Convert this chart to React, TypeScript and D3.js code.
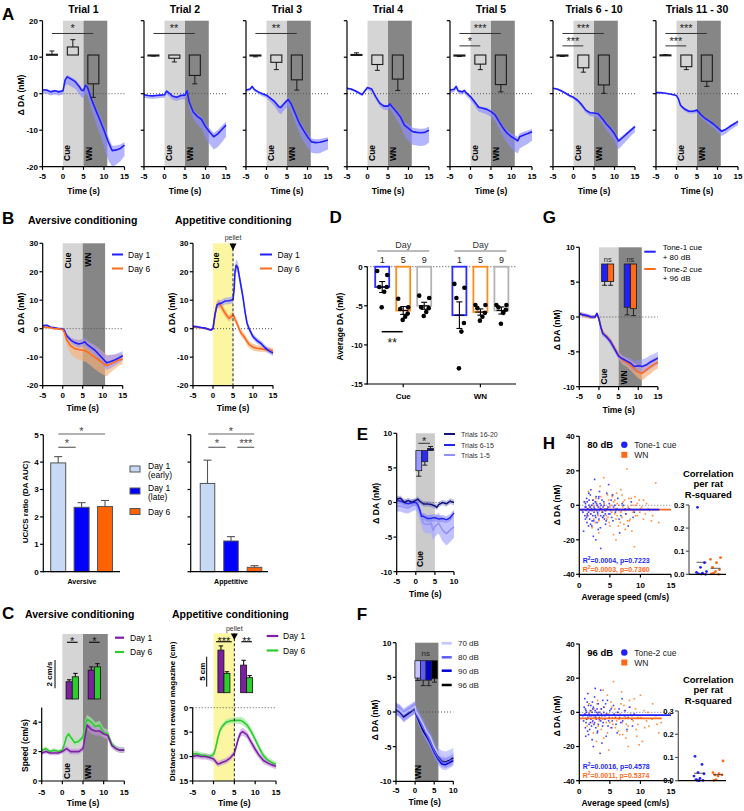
import React from "react";
import * as d3 from "d3";

const FONT = "'Liberation Sans', Arial, Helvetica, sans-serif";
const BLUE = "#1f1fff";
const BLUE_BAND = "#8c8cff";
const ORANGE = "#ff6a1a";
const ORANGE_BAND = "#f7b07a";
const PURPLE = "#7d1fa3";
const PURPLE_BAND = "#c590dd";
const GREEN = "#2ecc2e";
const GREEN_BAND = "#a2eaa2";
const LIGHT = "#d5d5d5";
const DARK = "#868686";
const YELLOW = "#fcf6a2";

// ---------------- Panel A data ----------------
const A_TITLES = ["Trial 1", "Trial 2", "Trial 3", "Trial 4", "Trial 5", "Trials 6 - 10", "Trials 11 - 30"];
const TR1_T = [-5, -4, -3, -2, -1, 0, 0.5, 1, 2, 3, 4, 4.5, 5, 5.5, 6, 6.5, 7, 8, 9, 10, 11, 12, 13, 14, 15];
const TR1_V = [1, 1, 0.5, 0.8, 0.5, 0.8, 3.7, 4.6, 4, 3.3, 1.9, 1, 0.8, 2.3, 1.7, 0, -1.7, -4.5, -7.2, -10, -13.1, -15.6, -15.4, -15, -14.1];
const TR1_L = [1, 1, 1, 1, 1, 1, 1.5, 2, 2, 2, 2, 2, 2, 2.2, 2.4, 2.6, 3, 3.5, 4, 4.5, 5, 4.5, 4, 3.5, 3];
const TR2_T = [-5, -4, -3, -2, -1, 0, 0.5, 1, 2, 3, 4, 5, 5.5, 6, 7, 8, 9, 10, 11, 12, 13, 14, 15];
const TR2_V = [-0.3, -0.5, -0.6, -0.5, -0.4, -0.3, 0.7, 0.3, -0.7, -1, -0.5, -0.4, 0.8, -2.2, -5, -6.2, -7, -9, -10.5, -11.8, -11, -9.8, -8.6];
const TR2_L = [0.8, 0.8, 0.8, 0.8, 0.8, 0.8, 0.8, 0.9, 1, 1, 1.1, 1.2, 1.3, 1.5, 2, 2.3, 2.6, 3, 3.3, 3.5, 3.6, 3.5, 3.2];
const TR3_T = [-5, -4, -3.5, -3, -2, -1, 0, 1, 2, 3, 3.5, 4, 5, 5.3, 6, 7, 8, 9, 10, 11, 12, 13, 14, 15];
const TR3_V = [1, 1.3, 2, 1.2, 0.5, 0, -0.4, -1.3, -2.2, -3.6, -3.8, -3.1, -1.9, -1.6, -2.8, -5.4, -8.1, -10, -11.8, -13.2, -13.4, -13.3, -13, -12.7];
const TR3_L = [0.5, 0.5, 0.5, 0.5, 0.6, 0.7, 0.8, 1, 1.3, 1.6, 1.8, 1.8, 1.8, 1.8, 2, 2.5, 2.8, 3, 3, 3, 3, 3, 2.8, 2.6];
const TR4_T = [-5, -4, -3, -2, -1.3, -0.5, 0, 1, 2, 3, 4, 5, 5.5, 6, 7, 8, 9, 10, 11, 12, 13, 14, 15];
const TR4_V = [1.5, 1.3, 0.8, 0.2, -0.2, 1, 1.7, 1.3, -0.8, -2.6, -3.4, -3.4, -2.8, -3.6, -4.9, -6.3, -8.6, -9.5, -10.4, -10.6, -10.7, -10.6, -10];
const TR4_L = [0.4, 0.4, 0.4, 0.5, 0.5, 0.5, 0.6, 0.7, 0.8, 0.9, 1, 1.1, 1.2, 1.5, 2, 2.5, 3, 3.5, 3.6, 3.6, 3.6, 3.6, 3.4];
const TR5_T = [-5, -4, -3.5, -3, -2, -1.5, -1, 0, 1, 2, 3, 4, 5, 6, 7, 8, 9, 10, 11, 11.5, 12, 13, 14, 15];
const TR5_V = [1, 1.2, 2, 0.8, 0.5, 0.9, 0.2, -0.8, -2.2, -3.7, -4, -4.3, -4.9, -5.8, -7.7, -9.5, -10.9, -11.8, -12.5, -12.9, -11.8, -11.3, -10.9, -10.4];
const TR5_L = [0.8, 0.8, 0.8, 0.8, 0.8, 0.8, 0.8, 1, 1.1, 1.2, 1.3, 1.4, 1.5, 1.7, 2, 2.4, 2.8, 3.2, 3.5, 3.5, 3.2, 3, 2.8, 2.5];
const TR6_T = [-5, -4, -3, -2, -1, 0, 1, 2, 3, 4, 5, 6, 7, 8, 9, 10, 11, 12, 13, 14, 15];
const TR6_V = [1.5, 1.3, 0.8, 0.2, -0.5, -1, -1.8, -3, -4.5, -5.2, -5.3, -5.5, -6.8, -8.3, -9.5, -11, -13, -12, -11, -10, -9];
const TR6_L = [0.3, 0.3, 0.3, 0.3, 0.4, 0.5, 0.6, 0.7, 0.8, 0.9, 1, 1.2, 1.4, 1.7, 1.9, 2.1, 2.2, 2, 1.8, 1.6, 1.5];
const TR7_T = [-5, -4, -3, -2, -1, 0, 0.5, 1, 2, 3, 4, 5, 6, 7, 8, 9, 10, 11, 12, 13, 14, 15];
const TR7_V = [0.3, 0.3, 0.2, 0, -0.2, -0.5, -1.5, -3.2, -4.2, -4.8, -4.8, -4.5, -5.8, -6.8, -7.5, -8.3, -9.3, -10.3, -9.8, -9, -8.3, -7.6];
const TR7_L = [0.2, 0.2, 0.2, 0.2, 0.3, 0.3, 0.4, 0.5, 0.6, 0.6, 0.7, 0.7, 0.8, 0.9, 1, 1.1, 1.2, 1.3, 1.2, 1.1, 1, 1];
const A_TS = [TR1_T, TR2_T, TR3_T, TR4_T, TR5_T, TR6_T, TR7_T];
const A_VS = [TR1_V, TR2_V, TR3_V, TR4_V, TR5_V, TR6_V, TR7_V];
const A_LS = [TR1_L, TR2_L, TR3_L, TR4_L, TR5_L, TR6_L, TR7_L];
const A_ZERO = 10.6;
const A_BASE = [0.2, -0.2, -0.2, 0.15, -0.3, -0.3, 0.05];
const A_BASE_E = [0.9, 0.1, 0.3, 0.45, 0.1, 0.1, 0.05];
const A_CUE = [2.2, -0.9, -2.0, -2.6, -2.5, -3.5, -3.2];
const A_CUE_E = [2.0, 1.0, 2.0, 1.6, 1.5, 1.2, 0.8];
const A_WN = [-7.9, -5.6, -6.8, -6.6, -8.1, -8.2, -7.2];
const A_WN_E = [3.7, 2.3, 2.8, 3.1, 2.0, 2.3, 1.4];
const A_SIG_TOP = ["*", "**", "**", "", "***", "***", "***"];
const A_SIG_LOW = ["", "", "", "", "*", "***", "***"];

// ---------------- Panel B data ----------------
const BAV_T = [-5, -4, -3, -2, -1, 0, 0.5, 1, 2, 3, 4, 5, 5.5, 6, 7, 8, 9, 10, 11, 12, 13, 14, 15];
const BAV_D1 = [1, 1.2, 0.5, 0.3, 0, 0, -0.8, -2.5, -4, -4.9, -5.4, -5, -4.6, -5.4, -6.5, -7.5, -9, -10.5, -12, -11.5, -11, -10.3, -9.5];
const BAV_D1E = [0.4, 0.4, 0.4, 0.4, 0.4, 0.4, 0.6, 0.8, 1, 1.2, 1.3, 1.4, 1.4, 1.5, 1.6, 1.8, 2, 2.3, 2.5, 2.3, 2, 1.8, 1.6];
const BAV_D6 = [0.5, 0.5, 0.3, 0, 0, -0.3, -1.5, -4, -6, -7, -7.3, -7.6, -7.7, -8, -9, -10, -11, -12, -13, -12.3, -11.7, -11, -10.7];
const BAV_D6E = [0.4, 0.4, 0.4, 0.4, 0.4, 0.5, 1, 2, 2.8, 3.2, 3.5, 3.8, 3.8, 3.8, 4, 4.2, 4.2, 4, 3.8, 3, 2.5, 2, 1.8];
const BAP_T = [-5, -4, -3, -2, -1, -0.5, 0, 0.5, 1, 1.5, 2, 3, 4, 4.5, 5, 5.3, 5.5, 5.8, 6.2, 6.5, 7, 7.5, 8, 8.5, 9, 10, 11, 12, 13, 14, 15];
const BAP_D1 = [0.8, 0.7, 0.4, 0.2, -0.3, -0.5, 0, 5, 8.3, 8.8, 8.9, 9.7, 9.8, 10, 10.3, 14, 20, 22.3, 21.5, 19, 15, 11, 6, 2, 0, -2.8, -4.2, -5.2, -6.7, -7.8, -8.6];
const BAP_D1E = [0.4, 0.4, 0.4, 0.4, 0.4, 0.4, 0.4, 1, 1.2, 1.2, 1.2, 1.2, 1.2, 1.2, 1.2, 1.5, 2, 2.2, 2, 1.8, 1.5, 1.3, 1.2, 1, 1, 1, 1, 1, 1, 1, 1];
const BAP_D6 = [0.6, 0.5, 0.3, 0.1, -0.2, -0.4, 0, 5, 8.5, 8.8, 8, 5.5, 3.6, 4.2, 4.8, 4.2, 3.2, 2.5, 1.2, 0, -1.5, -2.3, -3.3, -4.5, -5.5, -6.5, -6.9, -7.1, -7.3, -7.5, -7.8];
const BAP_D6E = [0.4, 0.4, 0.4, 0.4, 0.4, 0.4, 0.4, 1, 1.5, 1.6, 1.5, 1.3, 1.2, 1.2, 1.2, 1.2, 1.2, 1.2, 1.2, 1.2, 1.2, 1.2, 1.2, 1.2, 1.2, 1.2, 1.1, 1, 1, 1, 1];
const UC_NAMES = ["Day 1", "Day 1", "Day 6"];
const UC_SUB = ["(early)", "(late)", ""];
const UC_COLORS = ["#c6d9f5", "#0000ff", "#ff6200"];
const UC_AV = [3.97, 2.35, 2.38];
const UC_AV_E = [0.23, 0.17, 0.22];
const UC_AP = [3.22, 1.12, 0.16];
const UC_AP_E = [0.85, 0.16, 0.06];

// ---------------- Panel C data ----------------
const CAV_T = [-5, -4, -3, -2, -1, 0, 0.5, 1, 1.5, 2, 3, 4, 5, 5.5, 6, 7, 8, 9, 10, 11, 12, 13, 14, 15];
const CAV_D1 = [1.9, 2.0, 1.9, 1.9, 1.9, 2.0, 2.1, 2.2, 2.1, 2.0, 2.0, 2.0, 2.2, 3.0, 3.8, 3.5, 3.4, 3.4, 3.2, 3.1, 2.4, 2.2, 2.1, 2.1];
const CAV_D6 = [2.1, 2.2, 2.0, 2.1, 2.0, 2.1, 2.5, 3.0, 3.2, 3.0, 2.6, 2.7, 3.0, 3.8, 4.2, 4.0, 3.7, 3.8, 3.3, 3.2, 2.5, 2.2, 2.1, 2.1];
const CAV_E = [0.15, 0.15, 0.15, 0.15, 0.15, 0.15, 0.2, 0.2, 0.2, 0.2, 0.2, 0.2, 0.2, 0.3, 0.3, 0.3, 0.3, 0.3, 0.3, 0.3, 0.2, 0.2, 0.2, 0.2];
const CAP_T = [-5, -4, -3, -2, -1, 0, 0.5, 1, 1.5, 2, 3, 4, 5, 5.5, 6, 6.5, 7, 8, 9, 10, 11, 12, 13, 14, 15];
const CAP_D1 = [10, 9.8, 10, 10, 10.2, 10.5, 11, 11.5, 11.4, 11.2, 10.9, 10.3, 9.3, 7.8, 6.2, 5.2, 4.9, 5.5, 7, 8.5, 9.8, 10.8, 11.3, 11.7, 12];
const CAP_D6 = [9.5, 9.4, 9.7, 9.8, 10, 9.6, 8.3, 6.3, 4.8, 3.9, 3, 2.7, 2.6, 2.6, 2.6, 2.6, 2.8, 3.5, 4.8, 6.5, 8.3, 9.8, 10.7, 11.2, 11.6];
const CAP_E = [0.6, 0.6, 0.6, 0.6, 0.6, 0.6, 0.6, 0.6, 0.6, 0.6, 0.6, 0.6, 0.6, 0.7, 0.7, 0.8, 0.8, 0.8, 0.8, 0.8, 0.7, 0.7, 0.6, 0.6, 0.6];
const C_AV_CUE = [1.22, 1.57];
const C_AV_CUE_E = [0.14, 0.24];
const C_AV_WN = [2.04, 2.27];
const C_AV_WN_E = [0.23, 0.23];
const C_AP_CUE = [7.1, 3.2];
const C_AP_CUE_E = [0.7, 0.3];
const C_AP_PEL = [4.6, 2.5];
const C_AP_PEL_E = [0.8, 0.35];

// ---------------- Panel D data ----------------
const D_GROUPS = ["Cue", "WN"];
const D_DAYS = ["1", "5", "9"];
const D_COLORS = ["#2b2bff", "#ff8c1a", "#b3b3b3"];
const D_MEAN = [[-2.6, -5.6, -5.0], [-6.2, -5.8, -5.6]];
const D_SEM = [[0.7, 0.5, 0.45], [1.7, 0.4, 0.45]];
const D_PTS = [
  [[-0.55, -1.06, -2.6, -2.6, -3.2, -5.2], [-4.1, -5.2, -5.4, -6.0, -6.4, -6.8], [-3.7, -4.0, -5.2, -5.3, -5.8, -6.3]],
  [[-2.2, -2.7, -4.0, -7.2, -8.3, -13.0], [-4.9, -4.9, -5.3, -5.9, -6.4, -6.9], [-4.9, -4.9, -5.2, -5.5, -5.9, -7.3]],
];
const D_JIT = [-5, 5, -3, 4.5, 2, -0.5];

// ---------------- Panel E data ----------------
const E_T = [-5, -4, -3, -2, -1, 0, 0.5, 1, 1.5, 2, 3, 4, 4.5, 5, 5.5, 6, 7, 8, 9, 10];
const E_16 = [0.5, 0.6, 0, 0.3, 0, 0.3, 0.5, 0.2, 0, -0.2, -0.2, -0.3, -0.4, -0.5, -0.7, -0.3, 0, -0.2, 0.2, 0];
const E_6 = [0.3, 0.2, 0, -0.2, 0, 0, -0.3, -1, -2, -2, -2.3, -2.3, -2.2, -2.2, -2.3, -2.4, -2.3, -2.5, -2.2, -1.5];
const E_1 = [-0.5, -0.5, -0.7, -0.8, -0.5, -0.3, -0.8, -1.5, -2.3, -3, -3.2, -3, -4, -3.5, -3.2, -3, -4, -4.5, -4, -3.5];
const E_16E = E_T.map(() => 0.4);
const E_6E = E_T.map(() => 0.5);
const E_1E = [0.8, 0.8, 0.8, 0.8, 0.8, 0.8, 0.9, 1, 1.1, 1.2, 1.3, 1.4, 1.5, 1.5, 1.5, 1.5, 1.6, 1.7, 1.7, 1.6];
const E_NAMES = ["Trials 16-20", "Trials 6-15", "Trials 1-5"];
const E_COLORS = ["#14147f", "#2424f0", "#9090ff"];
const E_BAR = [-2.9, -1.6, 0.3];
const E_BAR_E = [0.8, 0.5, 0.3];
const E_BAR_COL = ["#9a9aff", "#2a2aff", "#10107a"];

// ---------------- Panel F data ----------------
const F_T = [-5, -4, -3, -2, -1, 0, 0.3, 1, 2, 3, 4, 5, 6, 7, 8, 9, 10];
const F_70 = [0.6, 0.3, -0.3, 0.1, 0.4, 0.8, 0, -0.6, -1.6, -2.8, -3.6, -5, -6, -6.4, -6.5, -6.3, -6];
const F_80 = [0.4, 0.1, -0.5, -0.1, 0.2, 0.6, -0.3, -1, -2.2, -3.2, -4.3, -5.6, -6.6, -7.2, -7.3, -7.1, -6.8];
const F_90 = [0.5, 0.2, -0.6, -0.2, 0.3, 0.7, -0.2, -1.1, -2.4, -3.4, -4.5, -5.8, -6.8, -7.5, -7.6, -7.3, -7];
const F_96 = [0.3, 0, -0.7, -0.3, 0.1, 0.5, -0.4, -1.3, -2.6, -3.5, -4.4, -5.5, -6.5, -7.1, -7.2, -7, -6.6];
const F_E = F_T.map(() => 0.8);
const F_NAMES = ["70 dB", "80 dB", "90 dB", "96 dB"];
const F_COLORS = ["#c4c4ff", "#5c5cff", "#0000d0", "#000000"];
const F_BAR = [-2.5, -2.8, -2.8, -2.6];
const F_BAR_E = [0.35, 0.8, 0.8, 0.5];

// ---------------- Panel G data ----------------
const G_T = [-5, -4, -3, -2, -1, -0.5, 0, 0.5, 1, 2, 3, 4, 5, 6, 7, 8, 9, 10, 11, 12, 13, 14, 15];
const G_1 = [0.5, 0.3, 0.2, 0, 0, 0.5, -0.3, -1.5, -2.4, -2.9, -3.6, -4.6, -5.6, -6, -6.3, -6.6, -7.1, -7, -7.1, -6.9, -6.5, -6.2, -5.9];
const G_2 = [0.5, 0.3, 0.1, 0, 0, 0.4, -0.2, -1.4, -2.3, -2.8, -3.5, -4.5, -5.5, -6.2, -6.5, -6.9, -7.4, -7.9, -8.1, -7.6, -7.2, -6.8, -6.5];
const G_E = [0.3, 0.3, 0.3, 0.3, 0.3, 0.3, 0.3, 0.4, 0.4, 0.4, 0.5, 0.5, 0.5, 0.6, 0.6, 0.7, 0.8, 0.9, 1, 1, 1, 0.9, 0.9];
const G_CUE = [-2.5, -2.5];
const G_CUE_E = [0.55, 0.55];
const G_WN = [-6.2, -6.4];
const G_WN_E = [1.1, 1.0];

// ---------------- Panel H data ----------------
const H80_BLUE = [[0.5, -3], [0.8, 2], [1, -8], [1.1, -1], [1.2, 4], [1.3, -5], [1.5, -12], [1.6, 0], [1.7, -3], [1.8, 6], [2, -2], [2.1, -9], [2.2, 3], [2.3, -18], [2.4, -1], [2.5, 15], [2.6, -6], [2.8, 1], [3, -4], [3.1, -14], [3.2, 5], [3.4, -2], [3.5, -25], [3.6, 0], [3.8, -7], [4, 2], [4.2, -3], [4.3, -11], [4.5, 7], [4.7, -1], [5, -5], [5.2, 3], [5.5, -9], [5.8, 0], [6, -3], [6.3, 4], [6.8, -6], [7, 1], [7.5, -2], [8, -12], [8.5, 2], [9, -4], [2.9, -10], [1.9, 9], [0.7, -15], [4.8, 12], [6.6, -16], [3.3, 8], [1.4, -6], [2.7, -20], [4.1, -8], [5.4, 6]];
const H80_BLUE2 = [[0.6, -4], [0.9, -6], [1.0, 1], [1.1, -3], [1.2, -7], [1.3, 2], [1.4, -2], [1.5, -4], [1.6, 3], [1.7, -8], [1.8, -1], [1.9, -5], [2.0, 0], [2.1, -3], [2.2, -6], [2.3, 1], [2.4, -4], [2.5, -2], [2.6, 2], [2.7, -7], [2.8, -3], [2.9, 0], [3.0, -5], [3.1, -1], [3.2, -8], [3.3, -3], [3.4, 1], [3.5, -6], [3.6, -2], [3.7, 3], [3.8, -4], [3.9, -1], [4.0, -6], [4.1, 0], [4.3, -3], [4.4, -9], [4.6, -2], [4.8, -5], [4.9, 1], [5.1, -3], [5.3, -7], [5.6, -1], [5.9, -4], [6.2, -2], [6.5, -8], [6.9, -3], [7.2, 0], [7.6, -5], [8.2, -2], [8.8, -7], [1.25, -10], [2.05, -12], [2.75, 5], [3.45, -13], [1.55, 7], [0.95, -1], [2.35, -9], [3.15, 4], [4.25, -5], [1.85, -11]];
const H80_ORANGE = [[1, 2], [1.2, -6], [1.5, 8], [2, -3], [2.3, 3], [2.6, -10], [3, 0], [3.2, -16], [3.5, 5], [3.8, -4], [4, 16], [4.2, -2], [4.5, -8], [4.8, 3], [5, -12], [5.2, 0], [5.5, 6], [5.8, -5], [6, -20], [6.2, 1], [6.5, -3], [6.8, 9], [7, -7], [7.2, 2], [7.5, -14], [7.8, 21], [8, -1], [8.2, -9], [8.5, 4], [8.8, -4], [9, -24], [9.2, 0], [9.5, -6], [9.8, 3], [10, -2], [10.5, -8], [11, 1], [11.5, -3], [12.5, 13], [13, -10], [5.6, -17], [3.4, 11], [2.1, -13], [7.3, -11], [6.1, 7], [4.4, -6], [8.6, -15], [1.7, -1]];
const H80_ORANGE2 = [[1.3, -2], [1.8, -5], [2.2, 0], [2.5, -3], [2.8, 2], [3.1, -6], [3.4, -1], [3.7, -4], [4.1, 1], [4.4, -3], [4.7, -7], [5.0, -1], [5.3, -4], [5.6, 2], [5.9, -2], [6.2, -6], [6.5, 0], [6.8, -4], [7.1, -1], [7.4, 3], [7.7, -5], [8.0, -2], [8.3, -8], [8.6, 0], [8.9, -3], [9.2, -6], [9.5, 1], [9.9, -4], [10.2, -1], [10.8, -5], [11.3, -2], [12, -6], [3.2, -9], [4.9, -10], [6.4, -12], [7.9, -9], [2.7, 4], [5.4, 5], [7.0, 6], [9.1, 5], [3.9, -7], [6.0, -8], [8.1, 4], [4.6, 6], [2.4, -8], [5.8, 3], [7.5, -3], [6.7, -10], [10.5, 3], [11.8, -9]];
const H96_BLUE = [[0.6, -2], [0.8, 3], [1, -9], [1.1, 1], [1.2, -4], [1.3, 6], [1.5, -13], [1.6, -1], [1.8, -6], [1.9, 4], [2, -2], [2.1, -16], [2.2, 2], [2.4, -7], [2.5, 9], [2.7, -3], [2.8, 0], [3, -11], [3.1, 5], [3.3, -4], [3.4, -24], [3.5, 13], [3.6, -1], [3.8, -8], [4, 3], [4.2, -2], [4.4, -14], [4.6, 7], [4.8, -5], [5, 1], [5.3, -9], [5.6, 4], [5.9, -3], [6.2, -12], [6.5, 2], [6.8, -6], [7, 8], [7.4, -2], [7.8, -10], [8.2, 3], [8.6, -4], [9, -1], [1.4, 11], [2.3, -20], [3.7, -18], [0.9, 8], [2.6, 14], [1.7, -10]];
const H96_BLUE2 = [[0.7, -5], [0.9, -1], [1.0, 2], [1.1, -6], [1.2, 0], [1.4, -3], [1.5, 4], [1.6, -7], [1.7, -2], [1.8, 1], [1.9, -4], [2.0, -8], [2.1, 0], [2.2, -5], [2.3, 3], [2.4, -2], [2.5, -6], [2.6, 1], [2.7, -9], [2.8, -4], [2.9, 2], [3.0, -1], [3.1, -7], [3.2, 0], [3.3, -3], [3.5, -5], [3.6, 2], [3.7, -2], [3.9, -6], [4.0, 0], [4.2, -4], [4.3, 5], [4.5, -1], [4.7, -8], [4.9, -3], [5.2, 2], [5.4, -5], [5.7, -1], [6.0, -7], [6.3, 0], [6.6, -3], [7.1, -5], [7.5, 1], [8.0, -3], [8.7, -8], [1.35, -11], [2.15, 6], [2.95, -12], [3.85, 7], [1.05, -14]];
const H96_ORANGE = [[1, -1], [1.3, -8], [1.6, 5], [2, 1], [2.3, -12], [2.6, -3], [3, 7], [3.3, -5], [3.6, 2], [4, -15], [4.3, -1], [4.6, 10], [5, -6], [5.3, 3], [5.6, 18], [5.9, -9], [6.2, 0], [6.5, -4], [6.8, 5], [7.1, -13], [7.4, 1], [7.7, -7], [8, -20], [8.3, 3], [8.6, -2], [9, 8], [9.3, -10], [9.6, -3], [10, 10], [10.3, -17], [10.6, 1], [11, -5], [11.4, -8], [12, 5], [12.5, -2], [13, -12], [13.4, -6], [4.8, -22], [6.9, 12], [2.8, -17], [3.9, 13], [7.6, -15], [9.8, -19]];
const H96_ORANGE2 = [[1.2, -4], [1.7, 0], [2.1, -6], [2.4, 2], [2.7, -2], [3.1, -8], [3.4, 0], [3.8, -4], [4.1, 3], [4.4, -6], [4.8, -1], [5.1, -9], [5.4, -3], [5.8, 2], [6.1, -5], [6.4, -11], [6.7, -1], [7.0, -6], [7.3, 4], [7.6, -3], [8.0, -8], [8.4, -1], [8.8, -5], [9.2, 2], [9.6, -7], [10.1, -3], [10.7, -9], [11.2, 0], [11.9, -4], [12.7, -7], [3.6, -10], [5.2, 6], [6.6, -13], [8.2, 7], [4.6, -12], [2.9, 5], [7.8, -11], [9.4, -14], [5.5, -7], [3.2, -3]];
const H80_RAT_BLUE = [0.29, 0.05, 0.03, 0.012, 0.008, 0.005, 0.002, 0.0, 0.001];
const H80_RAT_ORANGE = [0.072, 0.065, 0.05, 0.03, 0.02, 0.012, 0.005, 0.002, 0.0];
const H96_RAT_BLUE = [0.105, 0.07, 0.035, 0.03, 0.02, 0.01, 0.005, 0.001, 0.0, 0.002];
const H96_RAT_ORANGE = [0.085, 0.035, 0.03, 0.025, 0.025, 0.02, 0.005, 0.001];
const RAT_JIT = [-4, 3, -1, 5, -5, 1, -3, 4, 0, -2];

// ---------------- helpers ----------------
function Band({ xs, ys, t, v, lo, hi, fill, op = 0.6 }: any) {
  const gen = d3
    .area<number>()
    .x((_, i) => xs(t[i]))
    .y0((d, i) => ys(d - lo[i]))
    .y1((d, i) => ys(d + (hi ? hi[i] : lo[i])));
  return <path d={gen(v) || undefined} fill={fill} opacity={op} />;
}

function Trace({ xs, ys, t, v, stroke, w = 1.5 }: any) {
  const gen = d3
    .line<number>()
    .x((_, i) => xs(t[i]))
    .y((d) => ys(d));
  return <path d={gen(v) || undefined} fill="none" stroke={stroke} strokeWidth={w} strokeLinejoin="round" />;
}

function YAxis({ x, ys, from, to, ticks, labels = true, fmt = (v: number) => String(v), size = 8, stroke = "#000" }: any) {
  return (
    <g>
      <line x1={x} x2={x} y1={ys(from) + 0.6} y2={ys(to)} stroke={stroke} strokeWidth={1.2} />
      {ticks.map((t: number) => (
        <g key={t}>
          <line x1={x - 3.2} x2={x} y1={ys(t)} y2={ys(t)} stroke={stroke} strokeWidth={1.2} />
          {labels && (
            <text x={x - 4.5} y={ys(t)} dy="0.36em" textAnchor="end" fontSize={size} fontWeight="bold">
              {fmt(t)}
            </text>
          )}
        </g>
      ))}
    </g>
  );
}

function XAxis({ y, xs, from, to, ticks, labels = true, size = 8, ly = 12.6 }: any) {
  return (
    <g>
      <line x1={xs(from) - 0.6} x2={xs(to)} y1={y} y2={y} stroke="#000" strokeWidth={1.2} />
      {ticks.map((t: number) => (
        <g key={t}>
          <line x1={xs(t)} x2={xs(t)} y1={y} y2={y + 3.2} stroke="#000" strokeWidth={1.2} />
          {labels && (
            <text x={xs(t)} y={y + ly} textAnchor="middle" fontSize={size} fontWeight="bold">
              {t}
            </text>
          )}
        </g>
      ))}
    </g>
  );
}

function RotText({ x, y, children, anchor = "middle", size = 8.5, weight = "bold", fill = "#000" }: any) {
  return (
    <text transform={`translate(${x},${y}) rotate(-90)`} textAnchor={anchor} fontSize={size} fontWeight={weight} fill={fill}>
      {children}
    </text>
  );
}

function Shade({ xs, ys, x0, x1, y0, y1, fill }: any) {
  const a = ys(y0), b = ys(y1);
  return <rect x={xs(x0)} y={Math.min(a, b)} width={xs(x1) - xs(x0)} height={Math.abs(a - b)} fill={fill} />;
}

function Dotted({ x1, x2, y, stroke = "#555" }: any) {
  return <line x1={x1} x2={x2} y1={y} y2={y} stroke={stroke} strokeWidth={1} strokeDasharray="1 2" />;
}

function HangBar({ xc, w, ys, z, m, e, fill = "none", stroke = "#222", sw = 1 }: any) {
  const y0 = ys(z), y1 = ys(z + m);
  const top = Math.min(y0, y1);
  const h = Math.max(Math.abs(y1 - y0), 1);
  const ye = ys(z + m + (m >= 0 ? e : -e));
  return (
    <g>
      <line x1={xc} x2={xc} y1={y1} y2={ye} stroke={stroke} strokeWidth={1} />
      <line x1={xc - 2.5} x2={xc + 2.5} y1={ye} y2={ye} stroke={stroke} strokeWidth={1} />
      <rect x={xc - w / 2} y={top} width={w} height={h} fill={fill} stroke={stroke} strokeWidth={sw} />
    </g>
  );
}

function UpBar({ xc, w, ys, base, v, e, fill, stroke = "#555", sw = 1, cap = 4 }: any) {
  const yb = ys(base), yv = ys(v), ye = ys(v + e);
  return (
    <g>
      <line x1={xc} x2={xc} y1={yv} y2={ye} stroke={stroke} strokeWidth={1.1} />
      <line x1={xc - cap} x2={xc + cap} y1={ye} y2={ye} stroke={stroke} strokeWidth={1.1} />
      <rect x={xc - w / 2} y={yv} width={w} height={yb - yv} fill={fill} stroke={stroke} strokeWidth={sw} />
    </g>
  );
}

function Star({ x, y, s, size = 11, fill = "#222", weight = "normal" }: any) {
  return (
    <text x={x} y={y} textAnchor="middle" fontSize={size} fill={fill} fontWeight={weight}>
      {s}
    </text>
  );
}

// ---------------- Panel A ----------------
function PanelA() {
  const X0 = [42.5, 144, 246, 347, 450, 553, 656];
  return (
    <g>
      <text x={2} y={19.5} fontSize={17} fontWeight="bold">A</text>
      <RotText x={23.5} y={95}>Δ  DA (nM)</RotText>
      {X0.map((x0, i) => {
        const xs = d3.scaleLinear().domain([-5, 15]).range([x0, x0 + 82]);
        const ys = d3.scaleLinear().domain([-20, 20]).range([166.7, 20.7]);
        const hi = A_LS[i].map((v) => v * 0.3);
        const bars = [
          [A_BASE[i], A_BASE_E[i], -2.7],
          [A_CUE[i], A_CUE_E[i], 2.4],
          [A_WN[i], A_WN_E[i], 7.4],
        ];
        return (
          <g key={i}>
            <Shade xs={xs} ys={ys} x0={0} x1={5} y0={-20} y1={20} fill={LIGHT} />
            <Shade xs={xs} ys={ys} x0={5} x1={10.8} y0={-20} y1={20} fill={DARK} />
            <Dotted x1={xs(-5)} x2={xs(15)} y={ys(0)} />
            <Band xs={xs} ys={ys} t={A_TS[i]} v={A_VS[i]} lo={A_LS[i]} hi={hi} fill={BLUE_BAND} op={0.65} />
            <Trace xs={xs} ys={ys} t={A_TS[i]} v={A_VS[i]} stroke={BLUE} w={1.6} />
            {bars.map(([m, e, c], j) => (
              <HangBar key={j} xc={xs(c)} w={11} ys={ys} z={A_ZERO} m={m} e={e} stroke="#1a1a1a" sw={1.1} />
            ))}
            {A_SIG_TOP[i] && (
              <g>
                <line x1={xs(-2.7)} x2={xs(7.4)} y1={ys(16.5)} y2={ys(16.5)} stroke="#333" strokeWidth={1} />
                <Star x={(xs(-2.7) + xs(7.4)) / 2} y={ys(16.5) - 1.8} s={A_SIG_TOP[i]} />
              </g>
            )}
            {A_SIG_LOW[i] && (
              <g>
                <line x1={xs(-2.7)} x2={xs(2.4)} y1={ys(13.1)} y2={ys(13.1)} stroke="#333" strokeWidth={1} />
                <Star x={(xs(-2.7) + xs(2.4)) / 2} y={ys(13.1) - 1} s={A_SIG_LOW[i]} />
              </g>
            )}
            <YAxis x={x0} ys={ys} from={-20} to={20} ticks={[-20, -10, 0, 10, 20]} labels={i === 0} />
            <XAxis y={166.7} xs={xs} from={-5} to={15} ticks={[-5, 0, 5, 10, 15]} />
            <text x={x0 + 41} y={12.5} textAnchor="middle" fontSize={10.5} fontWeight="bold">{A_TITLES[i]}</text>
            <RotText x={xs(0.95) + 3.2} y={161} anchor="start" size={8.5}>Cue</RotText>
            <RotText x={xs(6.2) + 3.2} y={161} anchor="start" size={8.5}>WN</RotText>
            <text x={x0 + 41} y={193.5} textAnchor="middle" fontSize={8.5} fontWeight="bold">Time (s)</text>
          </g>
        );
      })}
    </g>
  );
}

// ---------------- Panel B ----------------
function PanelBTop() {
  const ys = d3.scaleLinear().domain([-20, 30]).range([385.6, 243.3]);
  const xAv = d3.scaleLinear().domain([-5, 15]).range([42.7, 122.7]);
  const xAp = d3.scaleLinear().domain([-5, 15]).range([193, 273]);
  const yt = [-20, -10, 0, 10, 20, 30];
  const xt = [-5, 0, 5, 10, 15];
  const p5 = xAp(5);
  return (
    <g>
      <text x={2} y={223.5} fontSize={17} fontWeight="bold">B</text>
      <text x={28} y={223.5} fontSize={10.5} fontWeight="bold">Aversive conditioning</text>
      <text x={175} y={223.5} fontSize={10.5} fontWeight="bold">Appetitive conditioning</text>
      <Shade xs={xAv} ys={ys} x0={0} x1={5} y0={-20} y1={30} fill={LIGHT} />
      <Shade xs={xAv} ys={ys} x0={5} x1={10.6} y0={-20} y1={30} fill={DARK} />
      <Dotted x1={xAv(-5)} x2={xAv(15)} y={ys(0)} />
      <Band xs={xAv} ys={ys} t={BAV_T} v={BAV_D6} lo={BAV_D6E} fill={ORANGE_BAND} op={0.65} />
      <Band xs={xAv} ys={ys} t={BAV_T} v={BAV_D1} lo={BAV_D1E} fill={BLUE_BAND} op={0.55} />
      <Trace xs={xAv} ys={ys} t={BAV_T} v={BAV_D1} stroke={BLUE} w={1.6} />
      <Trace xs={xAv} ys={ys} t={BAV_T} v={BAV_D6} stroke={ORANGE} w={1.6} />
      <YAxis x={42.7} ys={ys} from={-20} to={30} ticks={yt} />
      <XAxis y={385.6} xs={xAv} from={-5} to={15} ticks={xt} />
      <RotText x={71.3} y={252.5} anchor="end">Cue</RotText>
      <RotText x={91.3} y={252.5} anchor="end">WN</RotText>
      <line x1={112} x2={123} y1={254.5} y2={254.5} stroke={BLUE} strokeWidth={2} />
      <text x={128} y={257.5} fontSize={8.5}>Day 1</text>
      <line x1={112} x2={123} y1={268.5} y2={268.5} stroke={ORANGE} strokeWidth={2} />
      <text x={128} y={271.5} fontSize={8.5}>Day 6</text>
      <RotText x={23.7} y={313}>Δ  DA (nM)</RotText>
      <text x={82.7} y={411} textAnchor="middle" fontSize={8.5} fontWeight="bold">Time (s)</text>
      <Shade xs={xAp} ys={ys} x0={0} x1={5} y0={-20} y1={30} fill={YELLOW} />
      <Dotted x1={xAp(-5)} x2={xAp(15)} y={ys(0)} />
      <Band xs={xAp} ys={ys} t={BAP_T} v={BAP_D6} lo={BAP_D6E} fill={ORANGE_BAND} op={0.65} />
      <Band xs={xAp} ys={ys} t={BAP_T} v={BAP_D1} lo={BAP_D1E} fill={BLUE_BAND} op={0.55} />
      <Trace xs={xAp} ys={ys} t={BAP_T} v={BAP_D6} stroke={ORANGE} w={1.6} />
      <Trace xs={xAp} ys={ys} t={BAP_T} v={BAP_D1} stroke={BLUE} w={1.6} />
      <line x1={p5} x2={p5} y1={ys(30)} y2={ys(-20)} stroke="#222" strokeWidth={1} strokeDasharray="3 2" />
      <polygon points={`${p5 - 3.5},${243.5} ${p5 + 3.5},${243.5} ${p5},${250.5}`} fill="#000" />
      <text x={p5} y={239.5} textAnchor="middle" fontSize={7} fill="#333">pellet</text>
      <YAxis x={193} ys={ys} from={-20} to={30} ticks={yt} />
      <XAxis y={385.6} xs={xAp} from={-5} to={15} ticks={xt} />
      <RotText x={219} y={252.5} anchor="end">Cue</RotText>
      <line x1={260} x2={272} y1={254.5} y2={254.5} stroke={BLUE} strokeWidth={2} />
      <text x={277.5} y={257.5} fontSize={8.5}>Day 1</text>
      <line x1={260} x2={272} y1={268.5} y2={268.5} stroke={ORANGE} strokeWidth={2} />
      <text x={277.5} y={271.5} fontSize={8.5}>Day 6</text>
      <RotText x={174.7} y={313}>Δ  DA (nM)</RotText>
      <text x={233} y={411} textAnchor="middle" fontSize={8.5} fontWeight="bold">Time (s)</text>
    </g>
  );
}

function PanelBBottom() {
  const ys = d3.scaleLinear().domain([0, 5]).range([571.7, 434.7]);
  const bxAv = d3.scaleLinear().domain([0, 2]).range([58.2, 105]);
  const bxAp = d3.scaleLinear().domain([0, 2]).range([207.5, 254.5]);
  const legY = [469.5, 491.5, 512];
  return (
    <g>
      {UC_AV.map((v, i) => (
        <UpBar key={i} xc={bxAv(i)} w={15} ys={ys} base={0} v={v} e={UC_AV_E[i]} fill={UC_COLORS[i]} />
      ))}
      <YAxis x={43.3} ys={ys} from={0} to={5} ticks={[0, 1, 2, 3, 4, 5]} />
      <line x1={42.7} x2={120} y1={571.7} y2={571.7} stroke="#000" strokeWidth={1.2} />
      <line x1={58.3} x2={75.7} y1={447.3} y2={447.3} stroke="#666" strokeWidth={1.2} />
      <Star x={67} y={446.5} s="*" fill="#444" />
      <line x1={58.3} x2={105} y1={434} y2={434} stroke="#666" strokeWidth={1.2} />
      <Star x={81.5} y={434.5} s="*" fill="#444" />
      <text x={82} y={584} textAnchor="middle" fontSize={7} fontWeight="bold">Aversive</text>
      <RotText x={28} y={502} size={8}>UC/CS ratio (DA AUC)</RotText>
      {UC_AP.map((v, i) => (
        <UpBar key={i} xc={bxAp(i)} w={14.5} ys={ys} base={0} v={v} e={UC_AP_E[i]} fill={UC_COLORS[i]} />
      ))}
      <YAxis x={190.7} ys={ys} from={0} to={5} ticks={[0, 1, 2, 3, 4, 5]} labels={false} />
      <line x1={190.1} x2={268} y1={571.7} y2={571.7} stroke="#000" strokeWidth={1.2} />
      <line x1={208.3} x2={254.3} y1={434} y2={434} stroke="#666" strokeWidth={1.2} />
      <Star x={231} y={434.5} s="*" fill="#444" />
      <line x1={208.3} x2={225.7} y1={447.3} y2={447.3} stroke="#666" strokeWidth={1.2} />
      <Star x={217} y={447} s="*" fill="#444" />
      <line x1={237.3} x2={254.3} y1={447.3} y2={447.3} stroke="#666" strokeWidth={1.2} />
      <Star x={245.8} y={447} s="***" fill="#444" />
      <text x={231} y={584} textAnchor="middle" fontSize={7} fontWeight="bold">Appetitive</text>
      {UC_NAMES.map((n, i) => (
        <g key={i}>
          <rect x={130} y={legY[i] - 3.5} width={10} height={6} fill={UC_COLORS[i]} stroke="#555" strokeWidth={1} />
          <text x={148} y={UC_SUB[i] ? legY[i] - 1 : legY[i] + 3} fontSize={8.5}>{n}</text>
          {UC_SUB[i] && <text x={148} y={legY[i] + 8.5} fontSize={8.5}>{UC_SUB[i]}</text>}
        </g>
      ))}
    </g>
  );
}

// ---------------- Panel C ----------------
function PanelC() {
  const xs = d3.scaleLinear().domain([-5, 15]).range([41.7, 124.3]);
  const ys = d3.scaleLinear().domain([0, 5]).range([781, 707.5]);
  const iy = d3.scaleLinear().domain([0, 1]).range([699, 684.85]);
  const xp = d3.scaleLinear().domain([-5, 15]).range([192.7, 276]);
  const yp = d3.scaleLinear().domain([0, 15]).range([707.7, 781]);
  const ip = d3.scaleLinear().domain([0, 1]).range([692.7, 686.7]);
  const xt = [-5, 0, 5, 10, 15];
  const p5 = xp(5);
  const cc = xs(2.4), wc = xs(7.75);
  const pc = xp(2.5), pl = xp(7.95);
  const cols = [PURPLE, GREEN];
  return (
    <g>
      <text x={2} y={619} fontSize={17} fontWeight="bold">C</text>
      <text x={25} y={617.5} fontSize={10.5} fontWeight="bold">Aversive conditioning</text>
      <text x={172} y={617.5} fontSize={10.5} fontWeight="bold">Appetitive conditioning</text>
      <Shade xs={xs} ys={ys} x0={0} x1={5} y0={0} y1={10} fill={LIGHT} />
      <Shade xs={xs} ys={ys} x0={5} x1={11} y0={0} y1={10} fill={DARK} />
      <Band xs={xs} ys={ys} t={CAV_T} v={CAV_D6} lo={CAV_E} fill={GREEN_BAND} op={0.7} />
      <Band xs={xs} ys={ys} t={CAV_T} v={CAV_D1} lo={CAV_E} fill={PURPLE_BAND} op={0.6} />
      <Trace xs={xs} ys={ys} t={CAV_T} v={CAV_D6} stroke={GREEN} w={1.6} />
      <Trace xs={xs} ys={ys} t={CAV_T} v={CAV_D1} stroke={PURPLE} w={1.6} />
      <line x1={55} x2={55} y1={iy(0.76)} y2={iy(2.76)} stroke="#000" strokeWidth={1} />
      <RotText x={52.3} y={674} size={8}>2 cm/s</RotText>
      {[C_AV_CUE, C_AV_WN].map((arr, g) =>
        arr.map((v, k) => (
          <UpBar key={`${g}${k}`} xc={(g === 0 ? cc : wc) + (k === 0 ? -3.1 : 3.1)} w={6.2} ys={iy} base={0} v={v}
            e={(g === 0 ? C_AV_CUE_E : C_AV_WN_E)[k]} fill={cols[k]} stroke="#111" sw={0.8} cap={2.2} />
        ))
      )}
      {[cc, wc].map((c, g) => (
        <g key={g}>
          <line x1={c - 5.3} x2={c + 5.3} y1={642.3} y2={642.3} stroke="#111" strokeWidth={1.2} />
          <Star x={c} y={644.6} s="*" size={11} fill="#111" />
        </g>
      ))}
      <YAxis x={41.7} ys={ys} from={0} to={5} ticks={[0, 2, 4]} />
      <XAxis y={781} xs={xs} from={-5} to={15} ticks={xt} ly={13.5} />
      <RotText x={69.7} y={779} anchor="start" size={8.5}>Cue</RotText>
      <RotText x={90.5} y={779} anchor="start" size={8.5}>WN</RotText>
      <line x1={115} x2={124} y1={637.7} y2={637.7} stroke={PURPLE} strokeWidth={2.2} />
      <text x={130} y={641} fontSize={8.5}>Day 1</text>
      <line x1={115} x2={124} y1={652} y2={652} stroke={GREEN} strokeWidth={2.2} />
      <text x={130} y={655.3} fontSize={8.5}>Day 6</text>
      <RotText x={28} y={745.5}>Speed  (cm/s)</RotText>
      <text x={83} y={806} textAnchor="middle" fontSize={8.5} fontWeight="bold">Time (s)</text>
      <rect x={xp(0)} y={633.3} width={xp(5) - xp(0)} height={781 - 633.3} fill={YELLOW} />
      <Dotted x1={xp(-5)} x2={xp(15)} y={yp(0)} />
      <Band xs={xp} ys={yp} t={CAP_T} v={CAP_D6} lo={CAP_E} fill={GREEN_BAND} op={0.7} />
      <Band xs={xp} ys={yp} t={CAP_T} v={CAP_D1} lo={CAP_E} fill={PURPLE_BAND} op={0.6} />
      <Trace xs={xp} ys={yp} t={CAP_T} v={CAP_D6} stroke={GREEN} w={1.6} />
      <Trace xs={xp} ys={yp} t={CAP_T} v={CAP_D1} stroke={PURPLE} w={1.6} />
      <line x1={p5} x2={p5} y1={633.3} y2={781} stroke="#222" strokeWidth={1} strokeDasharray="3 2" />
      <polygon points={`${p5 - 3.5},${633.5} ${p5 + 3.5},${633.5} ${p5},${640}`} fill="#000" />
      <text x={p5} y={630.5} textAnchor="middle" fontSize={7} fill="#333">pellet</text>
      <line x1={206.7} x2={206.7} y1={ip(1)} y2={ip(6)} stroke="#000" strokeWidth={1} />
      <RotText x={205} y={671.7} size={8}>5 cm</RotText>
      {[C_AP_CUE, C_AP_PEL].map((arr, g) =>
        arr.map((v, k) => (
          <UpBar key={`${g}${k}`} xc={(g === 0 ? pc : pl) + (k === 0 ? -3 : 3)} w={6} ys={ip} base={0} v={v}
            e={(g === 0 ? C_AP_CUE_E : C_AP_PEL_E)[k]} fill={cols[k]} stroke="#111" sw={0.8} cap={2.2} />
        ))
      )}
      <line x1={pc - 7.8} x2={pc + 7.8} y1={641.7} y2={641.7} stroke="#111" strokeWidth={1.2} />
      <Star x={pc} y={644.5} s="***" size={11} fill="#111" />
      <line x1={pl - 5.3} x2={pl + 5.3} y1={641.7} y2={641.7} stroke="#111" strokeWidth={1.2} />
      <Star x={pl} y={644.5} s="**" size={11} fill="#111" />
      <YAxis x={192.7} ys={yp} from={15} to={0} ticks={[0, 5, 10, 15]} />
      <XAxis y={781} xs={xp} from={-5} to={15} ticks={xt} ly={13.5} />
      <line x1={266.7} x2={278.3} y1={636} y2={636} stroke={PURPLE} strokeWidth={2.2} />
      <text x={283} y={639.3} fontSize={8.5}>Day 1</text>
      <line x1={266.7} x2={278.3} y1={650.5} y2={650.5} stroke={GREEN} strokeWidth={2.2} />
      <text x={283} y={653.8} fontSize={8.5}>Day 6</text>
      <RotText x={174.7} y={711.5} size={8}>Distance from reward magazine (cm)</RotText>
      <text x={234.3} y={806} textAnchor="middle" fontSize={8.5} fontWeight="bold">Time (s)</text>
    </g>
  );
}

// ---------------- Panel D ----------------
function PanelD() {
  const ys = d3.scaleLinear().domain([-15, 0]).range([384, 266.7]);
  const gx = d3.scaleLinear().domain([0, 1]).range([403.2, 480.4]);
  const off = d3.scaleLinear().domain([0, 2]).range([-21, 21]);
  return (
    <g>
      <text x={329.5} y={223.3} fontSize={17} fontWeight="bold">D</text>
      <Dotted x1={367.3} x2={516} y={ys(0)} stroke="#444" />
      {D_GROUPS.map((g, gi) => (
        <g key={g}>
          <text x={gx(gi)} y={248} textAnchor="middle" fontSize={9} fill="#333">Day</text>
          <line x1={gx(gi) - 26} x2={gx(gi) + 26} y1={251} y2={251} stroke="#777" strokeWidth={1} />
          {D_DAYS.map((d, di) => {
            const c = gx(gi) + off(di);
            const m = D_MEAN[gi][di], s = D_SEM[gi][di];
            return (
              <g key={d}>
                <text x={c} y={263.3} textAnchor="middle" fontSize={9} fill="#222">{d}</text>
                <rect x={c - 7} y={ys(0)} width={14} height={ys(m) - ys(0)} fill="none" stroke={D_COLORS[di]} strokeWidth={1.8} />
                {D_PTS[gi][di].map((p, k) => (
                  <circle key={k} cx={c + D_JIT[k]} cy={ys(p)} r={2.3} fill="#000" />
                ))}
                <line x1={c} x2={c} y1={ys(m + s)} y2={ys(m - s)} stroke="#000" strokeWidth={1.1} />
                <line x1={c - 3} x2={c + 3} y1={ys(m + s)} y2={ys(m + s)} stroke="#000" strokeWidth={1.1} />
                <line x1={c - 3} x2={c + 3} y1={ys(m - s)} y2={ys(m - s)} stroke="#000" strokeWidth={1.1} />
                <line x1={c - 5} x2={c + 5} y1={ys(m)} y2={ys(m)} stroke="#000" strokeWidth={1.1} />
              </g>
            );
          })}
          <line x1={gx(gi)} x2={gx(gi)} y1={384} y2={387.2} stroke="#000" strokeWidth={1.2} />
          <text x={gx(gi)} y={398.5} textAnchor="middle" fontSize={8} fontWeight="bold">{g}</text>
        </g>
      ))}
      <YAxis x={367.3} ys={ys} from={-15} to={0} ticks={[0, -5, -10, -15]} />
      <line x1={366.7} x2={516} y1={384} y2={384} stroke="#000" strokeWidth={1.2} />
      <line x1={381.7} x2={402.7} y1={331.7} y2={331.7} stroke="#000" strokeWidth={1.5} />
      <Star x={392.2} y={346.5} s="**" size={12} fill="#111" />
      <RotText x={343} y={326.7}>Average DA (nM)</RotText>
    </g>
  );
}

// ---------------- Panel E ----------------
function PanelE() {
  const xs = d3.scaleLinear().domain([-5, 10]).range([396.7, 454]);
  const ys = d3.scaleLinear().domain([-10, 10]).range([571.7, 433.3]);
  const barT = [0.78, 2.36, 3.85];
  const legY = [434, 445, 455];
  return (
    <g>
      <text x={356.7} y={439.5} fontSize={17} fontWeight="bold">E</text>
      <Shade xs={xs} ys={ys} x0={0} x1={5} y0={-10} y1={10} fill="#cbcbcb" />
      <Dotted x1={xs(-5)} x2={xs(10)} y={ys(0)} />
      <Band xs={xs} ys={ys} t={E_T} v={E_1} lo={E_1E} fill="#a8a8ff" op={0.7} />
      <Band xs={xs} ys={ys} t={E_T} v={E_6} lo={E_6E} fill="#7a7aff" op={0.5} />
      <Band xs={xs} ys={ys} t={E_T} v={E_16} lo={E_16E} fill="#6a6ab8" op={0.4} />
      <Trace xs={xs} ys={ys} t={E_T} v={E_1} stroke={E_COLORS[2]} w={1.5} />
      <Trace xs={xs} ys={ys} t={E_T} v={E_6} stroke={E_COLORS[1]} w={1.5} />
      <Trace xs={xs} ys={ys} t={E_T} v={E_16} stroke={E_COLORS[0]} w={1.5} />
      {E_BAR.map((m, i) => (
        <HangBar key={i} xc={xs(barT[i])} w={5.8} ys={ys} z={7.5} m={m} e={E_BAR_E[i]} fill={E_BAR_COL[i]} stroke="#222" sw={0.8} />
      ))}
      <line x1={418.3} x2={430} y1={443.3} y2={443.3} stroke="#333" strokeWidth={1} />
      <Star x={424.2} y={444.5} s="*" size={11} />
      <YAxis x={396.7} ys={ys} from={-10} to={10} ticks={[-10, -5, 0, 5, 10]} />
      <XAxis y={571.7} xs={xs} from={-5} to={10} ticks={[-5, 0, 5, 10]} ly={12} />
      <RotText x={423} y={567} anchor="start" size={8.5}>Cue</RotText>
      {E_NAMES.map((n, i) => (
        <g key={n}>
          <line x1={444} x2={455} y1={legY[i]} y2={legY[i]} stroke={E_COLORS[i]} strokeWidth={2} />
          <text x={461} y={legY[i] + 2.5} fontSize={7} fill="#333">{n}</text>
        </g>
      ))}
      <RotText x={379} y={503.3}>Δ  DA (nM)</RotText>
      <text x={425.3} y={596.7} textAnchor="middle" fontSize={8.5} fontWeight="bold">Time (s)</text>
    </g>
  );
}

// ---------------- Panel F ----------------
function PanelF() {
  const xs = d3.scaleLinear().domain([-5, 10]).range([396, 453.3]);
  const ys = d3.scaleLinear().domain([-10, 10]).range([781.3, 642.7]);
  const series = [F_70, F_80, F_90, F_96];
  const barT = [0.68, 2.12, 3.59, 5.08];
  const legY = [643.3, 657.3, 670.7, 685];
  return (
    <g>
      <text x={356.7} y={620} fontSize={17} fontWeight="bold">F</text>
      <Shade xs={xs} ys={ys} x0={0} x1={6.1} y0={-10} y1={10} fill="#808080" />
      <Dotted x1={xs(-5)} x2={xs(10)} y={ys(0)} />
      {series.map((s, i) => (
        <Band key={i} xs={xs} ys={ys} t={F_T} v={s} lo={F_E} fill="#8c8cff" op={0.45} />
      ))}
      {[3, 2, 1, 0].map((i) => (
        <Trace key={i} xs={xs} ys={ys} t={F_T} v={series[i]} stroke={F_COLORS[i]} w={1.5} />
      ))}
      {F_BAR.map((m, i) => (
        <HangBar key={i} xc={xs(barT[i])} w={5.6} ys={ys} z={7.4} m={m} e={F_BAR_E[i]} fill={F_COLORS[i]} stroke="#222" sw={0.8} />
      ))}
      <text x={425.7} y={655.5} textAnchor="middle" fontSize={8} fill="#222">ns</text>
      <YAxis x={396} ys={ys} from={-10} to={10} ticks={[-10, -5, 0, 5, 10]} />
      <XAxis y={781.3} xs={xs} from={-5} to={10} ticks={[-5, 0, 5, 10]} ly={12} />
      <RotText x={421.3} y={779} anchor="start" size={8.5}>WN</RotText>
      {F_NAMES.map((n, i) => (
        <g key={n}>
          <line x1={441.7} x2={451.7} y1={legY[i]} y2={legY[i]} stroke={F_COLORS[i]} strokeWidth={2.5} />
          <text x={458} y={legY[i] + 3} fontSize={8} fill="#222">{n}</text>
        </g>
      ))}
      <RotText x={378} y={720}>Δ  DA (nM)</RotText>
      <text x={424.7} y={805} textAnchor="middle" fontSize={8.5} fontWeight="bold">Time (s)</text>
    </g>
  );
}

// ---------------- Panel G ----------------
function PanelG() {
  const xs = d3.scaleLinear().domain([-5, 15]).range([579.3, 657.9]);
  const ys = d3.scaleLinear().domain([-10, 10]).range([386.7, 247.3]);
  const cols = [BLUE, ORANGE];
  return (
    <g>
      <text x={542.7} y={223.3} fontSize={17} fontWeight="bold">G</text>
      <Shade xs={xs} ys={ys} x0={0} x1={5} y0={-10} y1={10} fill={LIGHT} />
      <Shade xs={xs} ys={ys} x0={5} x1={10.9} y0={-10} y1={10} fill={DARK} />
      <Dotted x1={xs(-5)} x2={xs(15)} y={ys(0)} />
      <Band xs={xs} ys={ys} t={G_T} v={G_2} lo={G_E} fill={ORANGE_BAND} op={0.7} />
      <Band xs={xs} ys={ys} t={G_T} v={G_1} lo={G_E} fill={BLUE_BAND} op={0.5} />
      <Trace xs={xs} ys={ys} t={G_T} v={G_2} stroke={ORANGE} w={1.6} />
      <Trace xs={xs} ys={ys} t={G_T} v={G_1} stroke={BLUE} w={1.6} />
      {[G_CUE, G_WN].map((arr, g) =>
        arr.map((m, k) => (
          <HangBar key={`${g}${k}`} xc={xs(g === 0 ? [1.45, 2.98][k] : [7.2, 8.78][k])} w={6} ys={ys} z={7.6} m={m}
            e={(g === 0 ? G_CUE_E : G_WN_E)[k]} fill={cols[k]} stroke="#222" sw={0.9} />
        ))
      )}
      <text x={607.7} y={261.5} textAnchor="middle" fontSize={7.5} fill="#222">ns</text>
      <text x={630.4} y={261.5} textAnchor="middle" fontSize={7.5} fill="#222">ns</text>
      <YAxis x={579.3} ys={ys} from={-10} to={10} ticks={[-10, -5, 0, 5, 10]} />
      <XAxis y={386.7} xs={xs} from={-5} to={15} ticks={[-5, 0, 5, 10, 15]} ly={12.5} />
      <RotText x={607.3} y={384.5} anchor="start" size={8.5}>Cue</RotText>
      <RotText x={627} y={384.5} anchor="start" size={8.5}>WN</RotText>
      <line x1={644.3} x2={655.7} y1={251.7} y2={251.7} stroke={BLUE} strokeWidth={2} />
      <text x={662.7} y={250.3} fontSize={8}>Tone-1 cue</text>
      <text x={662.7} y={260.3} fontSize={8}>+ 80 dB</text>
      <line x1={644.3} x2={655.7} y1={269} y2={269} stroke={ORANGE} strokeWidth={2} />
      <text x={662.7} y={271.7} fontSize={8}>Tone-2 cue</text>
      <text x={662.7} y={281.3} fontSize={8}>+ 96 dB</text>
      <RotText x={559.7} y={330}>Δ  DA (nM)</RotText>
      <text x={618.6} y={413} textAnchor="middle" fontSize={8.5} fontWeight="bold">Time (s)</text>
    </g>
  );
}

// ---------------- Panel H ----------------
function ScatterPanel({ y40, ym40, db, name, blue, orange, bLine, oLine, r2b, r2o, r2y, ylabY, ix, iy0, iy3, rb, ro, bcx, ocx, bm, om, titleY, bottomY }: any) {
  const xs = d3.scaleLinear().domain([0, 15]).range([579.3, 671]);
  const ys = d3.scaleLinear().domain([-40, 40]).range([ym40, y40]);
  const ry = d3.scaleLinear().domain([0, 0.3]).range([iy0, iy3]);
  const ly = y40 + 12;
  return (
    <g>
      <Dotted x1={xs(0)} x2={xs(15)} y={ys(0)} stroke="#777" />
      {orange.map((p: number[], i: number) => (
        <rect key={`o${i}`} x={xs(p[0]) - 0.8} y={ys(p[1]) - 0.8} width={1.6} height={1.6} fill="#ff7f2a" opacity={0.9} />
      ))}
      {blue.map((p: number[], i: number) => (
        <rect key={`b${i}`} x={xs(p[0]) - 0.8} y={ys(p[1]) - 0.8} width={1.6} height={1.6} fill="#2a2aff" opacity={0.9} />
      ))}
      <line x1={xs(0)} x2={xs(oLine[1])} y1={ys(oLine[0])} y2={ys(oLine[0])} stroke={ORANGE} strokeWidth={1.8} />
      <line x1={xs(0)} x2={xs(bLine[1])} y1={ys(bLine[0])} y2={ys(bLine[0])} stroke={BLUE} strokeWidth={1.8} />
      <YAxis x={579.3} ys={ys} from={-40} to={40} ticks={[-40, -20, 0, 20, 40]} />
      <XAxis y={ym40} xs={xs} from={0} to={15} ticks={[0, 5, 10, 15]} ly={13.5} />
      <text x={587.3} y={ly} fontSize={9.5} fontWeight="bold">{db}</text>
      <circle cx={624.3} cy={ly - 3.5} r={3.2} fill={BLUE} />
      <text x={634.3} y={ly} fontSize={8.5} fill="#222">{name}</text>
      <rect x={621.3} y={ly + 3.5} width={6} height={6} fill={ORANGE} />
      <text x={634.3} y={ly + 10} fontSize={8.5} fill="#222">WN</text>
      <text x={582.7} y={r2y} fontSize={7} fontWeight="bold" fill={BLUE}>
        R<tspan fontSize={5} dy={-3}>2</tspan><tspan dy={3}>{r2b}</tspan>
      </text>
      <text x={582.7} y={r2y + 9.8} fontSize={7} fontWeight="bold" fill={ORANGE}>
        R<tspan fontSize={5} dy={-3}>2</tspan><tspan dy={3}>{r2o}</tspan>
      </text>
      <RotText x={559.7} y={ylabY}>Δ  DA (nM)</RotText>
      <text x={625.2} y={bottomY} textAnchor="middle" fontSize={8.5} fontWeight="bold">Average speed (cm/s)</text>
      {["Correlation", "per rat", "R-squared"].map((s, i) => (
        <text key={s} x={708.3} y={titleY + i * 10.7} textAnchor="middle" fontSize={9.5} fontWeight="bold">{s}</text>
      ))}
      {rb.map((v: number, i: number) => (
        <circle key={`rb${i}`} cx={bcx + RAT_JIT[i % 10]} cy={ry(v)} r={1.4} fill={BLUE} />
      ))}
      {ro.map((v: number, i: number) => (
        <circle key={`ro${i}`} cx={ocx + RAT_JIT[(i + 3) % 10]} cy={ry(v)} r={1.4} fill={ORANGE} />
      ))}
      <line x1={bcx - 5} x2={bcx + 5} y1={ry(bm)} y2={ry(bm)} stroke="#333" strokeWidth={0.8} />
      <line x1={ocx - 5} x2={ocx + 5} y1={ry(om)} y2={ry(om)} stroke="#333" strokeWidth={0.8} />
      <YAxis x={ix} ys={ry} from={0} to={0.3} ticks={[0, 0.1, 0.2, 0.3]} fmt={(v: number) => v.toFixed(1)} size={7.5} stroke="#555" />
      <line x1={ix} x2={726} y1={iy0} y2={iy0} stroke="#000" strokeWidth={1.2} />
    </g>
  );
}

function PanelH() {
  return (
    <g>
      <text x={542.7} y={449} fontSize={17} fontWeight="bold">H</text>
      <ScatterPanel y40={436.3} ym40={574.3} db="80 dB" name="Tone-1 cue" blue={[...H80_BLUE, ...H80_BLUE2]} orange={[...H80_ORANGE, ...H80_ORANGE2]}
        bLine={[-2.5, 13.1]} oLine={[-2.5, 15]} r2b="=0.0004, p=0.7223" r2o="=0.0003, p=0.7360" r2y={562.5}
        ylabY={505} ix={689} iy0={574.3} iy3={505} rb={H80_RAT_BLUE} ro={H80_RAT_ORANGE} bcx={701.5} ocx={715.5}
        bm={0.052} om={0.026} titleY={476.6} bottomY={600} />
      <ScatterPanel y40={644} ym40={780.7} db="96 dB" name="Tone-2 cue" blue={[...H96_BLUE, ...H96_BLUE2]} orange={[...H96_ORANGE, ...H96_ORANGE2]}
        bLine={[-1.6, 15]} oLine={[-3.5, 13.5]} r2b="=0.0016, p=0.4578" r2o="=0.0011, p=0.5374" r2y={768.5}
        ylabY={716} ix={678.3} iy0={780.7} iy3={711} rb={H96_RAT_BLUE} ro={H96_RAT_ORANGE} bcx={699} ocx={718}
        bm={0.032} om={0.026} titleY={682.6} bottomY={806} />
    </g>
  );
}

export default function App() {
  return (
    <svg width={744} height={811} viewBox="0 0 744 811" fontFamily={FONT}
      style={{ position: "absolute", left: 0, top: 0, background: "#fff" }}>
      <rect x={0} y={0} width={744} height={811} fill="#fff" />
      <PanelA />
      <PanelBTop />
      <PanelBBottom />
      <PanelC />
      <PanelD />
      <PanelE />
      <PanelF />
      <PanelG />
      <PanelH />
    </svg>
  );
}
